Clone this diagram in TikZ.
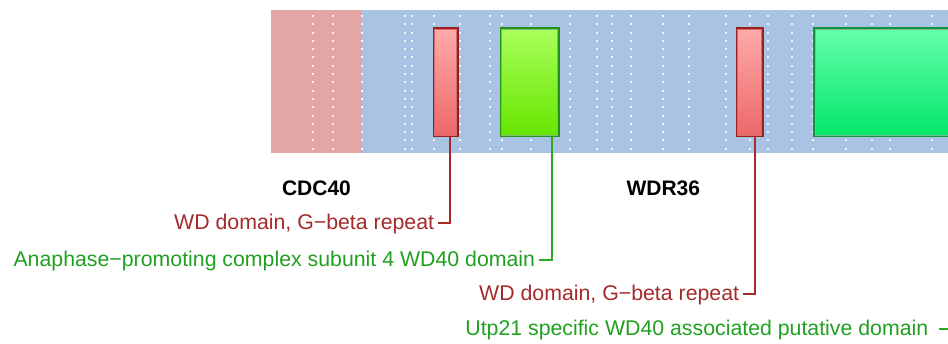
\documentclass[tikz,border=0pt]{standalone}
\usepackage{fontspec}
\setmainfont{Liberation Sans}
\usetikzlibrary{calc}
\definecolor{pinkbg}{HTML}{E4A5A5}
\definecolor{bluebg}{HTML}{A8C4E2}
\definecolor{redtop}{HTML}{FFAAAA}
\definecolor{redbot}{HTML}{EC6868}
\definecolor{rededge}{HTML}{9A2020}
\definecolor{redinner}{HTML}{D46A6A}
\definecolor{gAtop}{HTML}{AAFF5A}
\definecolor{gAbot}{HTML}{66E600}
\definecolor{gAedge}{HTML}{22901A}
\definecolor{gBtop}{HTML}{66FFAA}
\definecolor{gBbot}{HTML}{00E66A}
\definecolor{gBedge}{HTML}{149040}
\definecolor{redln}{HTML}{A82828}
\definecolor{greenln}{HTML}{2AAA20}
\definecolor{redtxt}{HTML}{A52A2A}
\definecolor{greentxt}{HTML}{20A020}
\tikzset{
  dombox/.style={rectangle, inner sep=0pt, anchor=north west, line width=1.8pt},
  redbox/.style={dombox, draw=rededge, top color=redtop, bottom color=redbot},
  gAbox/.style={dombox, draw=gAedge, top color=gAtop, bottom color=gAbot},
  gBbox/.style={dombox, draw=gBedge, top color=gBtop, bottom color=gBbot},
  lbl/.style={anchor=east, inner ysep=0pt, inner xsep=4pt, text height=15pt, text depth=2pt, font=\fontsize{21.3}{21.3}\selectfont},
  redlbl/.style={lbl, text=redtxt},
  greenlbl/.style={lbl, text=greentxt},
  redline/.style={draw=redln, line width=2pt},
  greenline/.style={draw=greenln, line width=2pt},
  title/.style={anchor=base, inner sep=0pt, font=\fontsize{21}{21}\selectfont\bfseries},
  dot/.style={fill=white, fill opacity=0.85}
}
\begin{document}
\begin{tikzpicture}[x=1pt,y=-1pt]
\useasboundingbox (0,0) rectangle (948,344);
\clip (0,0) rectangle (948,344);
% background regions
\fill[pinkbg] (271,10) rectangle (362,153);
\fill[bluebg] (362,10) rectangle (965,153);
% dotted columns
\foreach \x in {313.3,333,361.7,405.3,411.7,433.7,460,489.7,502,531.3,570.3,596.7,611.7,630.7,663.3,689,725.7,750,767.7,791.7,813.3,845.7,872.3,890.3,932}{
  \foreach \k in {0,...,16}{
    \fill[dot] ({\x-1},{16+8.3*\k-1}) rectangle ({\x+1},{16+8.3*\k+1});
  }
}
% domain boxes
\node[redbox, minimum width=24pt, minimum height=107.7pt] (r1) at (432.7,27.3) {};
\node[gAbox, minimum width=57.7pt, minimum height=107.7pt] (g1) at (500,27.3) {};
\node[redbox, minimum width=26pt, minimum height=107.7pt] (r2) at (735.7,27.3) {};
\node[gBbox, minimum width=180pt, minimum height=107.7pt] (g2) at (813.3,27.3) {};
\draw[redinner, line width=0.8pt] ([shift={(1.8,1.8)}]r1.north west) rectangle ([shift={(-1.8,-1.8)}]r1.south east);
\draw[redinner, line width=0.8pt] ([shift={(1.8,1.8)}]r2.north west) rectangle ([shift={(-1.8,-1.8)}]r2.south east);
\draw[gAedge!60, line width=0.8pt] ([shift={(1.8,1.8)}]g1.north west) rectangle ([shift={(-1.8,-1.8)}]g1.south east);
\draw[gBedge!60, line width=0.8pt] ([shift={(1.8,1.8)}]g2.north west) rectangle ([shift={(-1.8,-1.8)}]g2.south east);
% titles
\node[title] (cdc) at (316.5,195.7) {CDC40};
\node[title] (wdr) at (663.3,195.5) {WDR36};
% labels
\node[redlbl] (l1) at (438.3,223.3) {WD domain, G−beta repeat};
\node[greenlbl] (l2) at (539.3,260) {Anaphase−promoting complex subunit 4 WD40 domain};
\node[redlbl] (l3) at (743.3,294.3) {WD domain, G−beta repeat};
\node[greenlbl, inner xsep=10.5pt] (l4) at (939,329.3) {Utp21 specific WD40 associated putative domain};
% connectors
\draw[redline] ($(r1.south west)!0.667!(r1.south east)$) |- (l1.east);
\draw[greenline] ($(g1.south west)!0.872!(g1.south east)$) |- (l2.east);
\draw[redline] ($(r2.south west)!0.704!(r2.south east)$) |- (l3.east);
\draw[greenline] ($(g2.south west)!0.8!(g2.south east)$) |- (l4.east);
\end{tikzpicture}
\end{document}
